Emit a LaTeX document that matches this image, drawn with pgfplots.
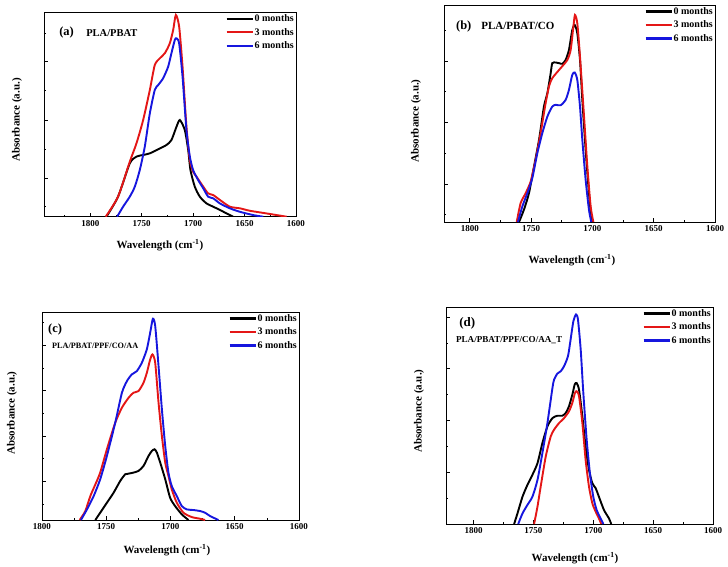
\documentclass[border=0pt]{standalone}
\usepackage{fontspec}
\setmainfont{Liberation Serif}
\usepackage{pgfplots}
\pgfplotsset{compat=1.18}
\definecolor{cred}{RGB}{228,22,22}
\definecolor{cblue}{RGB}{22,22,222}
\pgfplotsset{
  panel/.style={
    scale only axis,
    x dir=reverse,
    xmin=1600,
    ymin=0, ymax=1,
    axis line style={line width=0.8pt},
    xtick={1600,1650,1700,1750,1800},
    minor xtick={1625,1675,1725,1775,1825},
    tick align=inside,
    xtick pos=bottom, ytick pos=left,
    yticklabels={},
    major tick length=4pt, minor tick length=2.2pt,
    tick style={line width=0.6pt, black},
    /pgf/number format/assume math mode=true,
    /pgf/number format/1000 sep={},
    xticklabel style={font=\fontsize{9}{10}\selectfont\bfseries},
    label style={font=\fontsize{11}{12}\selectfont\bfseries},
    xlabel={Wavelength (cm\textsuperscript{-1})},
    ylabel={Absorbance (a.u.)},
    legend cell align=left,
    legend style={draw=none, fill=none, at={(1,1)}, anchor=north east,
      inner sep=1pt, font=\fontsize{10}{11}\selectfont\bfseries,
      nodes={inner sep=1pt, text height=7pt, text depth=1.5pt}, row sep=3pt},
    legend image code/.code={\draw[#1, line width=2.1pt, sharp plot] (0pt,0pt) -- (26pt,0pt);},
    every axis plot/.append style={line width=1.9pt, smooth, tension=0.4},
  }
}
\begin{document}
\begin{tikzpicture}
\useasboundingbox (0,0) rectangle (728pt,-566pt);
% ---------------- (a)
\begin{axis}[panel, at={(44pt,-216.7pt)}, anchor=south west,
  width=252pt, height=204.4pt, xmax=1845,
  ytick={0.19,0.473,0.758}, minor ytick={0.049,0.331,0.616,0.899},
  xlabel style={at={(axis description cs:0.46,-0.138)}, anchor=center},
  ylabel style={at={(axis description cs:-0.107,0.473)}, anchor=center}]
\addplot[black] coordinates {(1784.3,0) (1773,0.098) (1761.6,0.261) (1755.1,0.294) (1748.6,0.302) (1742.1,0.31) (1732.4,0.334) (1725.9,0.351) (1721.1,0.375) (1716.2,0.44) (1712.9,0.473) (1708.1,0.424) (1704.8,0.326) (1702.6,0.228) (1698.4,0.147) (1693.5,0.098) (1687,0.065) (1680.5,0.049) (1674,0.033) (1664.3,0.008) (1661,0)};
\addlegendentry{0 months}
\addplot[cred] coordinates {(1785,0) (1773,0.098) (1761.6,0.269) (1755.1,0.359) (1748.6,0.473) (1742.1,0.62) (1737.3,0.742) (1732.4,0.775) (1727.5,0.8) (1722.7,0.848) (1719.4,0.914) (1716.8,0.987) (1713.6,0.93) (1710.3,0.734) (1706.5,0.44) (1703.2,0.277) (1700,0.22) (1696.7,0.196) (1690.2,0.147) (1685.4,0.114) (1680.5,0.106) (1674,0.082) (1664.3,0.049) (1654.5,0.041) (1644.8,0.029) (1628.6,0.016) (1609.1,0)};
\addlegendentry{3 months}
\addplot[cblue] coordinates {(1773.9,0) (1768.1,0.049) (1761.6,0.098) (1756.7,0.147) (1751.9,0.228) (1747,0.343) (1742.1,0.506) (1737.3,0.62) (1734,0.644) (1729.2,0.677) (1724.3,0.734) (1721.1,0.8) (1717.8,0.865) (1716.2,0.873) (1713.6,0.848) (1710.3,0.685) (1706.5,0.424) (1703.2,0.294) (1700,0.228) (1695.1,0.179) (1690.2,0.139) (1685.4,0.098) (1680.5,0.09) (1674,0.065) (1664.3,0.041) (1654.5,0.024) (1641.6,0.008) (1631.8,0)};
\addlegendentry{6 months}
\node[anchor=west, font=\fontsize{12.5}{13}\selectfont\bfseries, inner sep=0pt] at (rel axis cs:0.06,0.899) {(a)};
\node[anchor=west, font=\fontsize{10.5}{12}\selectfont\bfseries, inner sep=0pt] at (rel axis cs:0.167,0.899) {PLA/PBAT};
\end{axis}
% ---------------- (b)
\begin{axis}[panel, at={(444pt,-222pt)}, anchor=south west,
  width=271pt, height=217pt, xmax=1821,
  ytick={0.176,0.46,0.742}, minor ytick={0.034,0.317,0.601,0.885},
  xlabel style={at={(axis description cs:0.472,-0.175)}, anchor=center},
  ylabel style={at={(axis description cs:-0.103,0.465)}, anchor=center}]
\addplot[black] coordinates {(1759.8,0) (1755.8,0.057) (1751.7,0.133) (1747.6,0.256) (1743.5,0.379) (1739.5,0.532) (1736.7,0.594) (1734,0.686) (1732.7,0.732) (1729.9,0.735) (1727.2,0.732) (1724.5,0.729) (1721.8,0.747) (1719.1,0.793) (1716.4,0.885) (1714.4,0.908) (1712.3,0.87) (1710.1,0.747) (1708.2,0.563) (1705.5,0.333) (1702.8,0.133) (1700.6,0)};
\addlegendentry{0 months}
\addplot[cred] coordinates {(1761.7,0) (1758.5,0.087) (1754.4,0.133) (1750.3,0.187) (1746.3,0.287) (1742.2,0.41) (1738.1,0.548) (1735.4,0.624) (1732.7,0.663) (1725.9,0.709) (1720.4,0.747) (1717.7,0.793) (1715.5,0.9) (1714.2,0.954) (1712.3,0.916) (1710.1,0.762) (1706.8,0.486) (1704.1,0.256) (1701.4,0.072) (1699.2,0)};
\addlegendentry{3 months}
\addplot[cblue] coordinates {(1760.7,0) (1757.1,0.072) (1753,0.133) (1749,0.202) (1744.9,0.317) (1740.8,0.41) (1736.7,0.486) (1732.7,0.532) (1729.9,0.54) (1725.9,0.538) (1721.8,0.563) (1719.1,0.609) (1716.4,0.678) (1714.4,0.689) (1712.3,0.655) (1710.1,0.532) (1708.2,0.379) (1705.5,0.195) (1702.8,0.057) (1700.9,0)};
\addlegendentry{6 months}
\node[anchor=west, font=\fontsize{12.5}{13}\selectfont\bfseries, inner sep=0pt] at (rel axis cs:0.044,0.903) {(b)};
\node[anchor=west, font=\fontsize{11}{12}\selectfont\bfseries, inner sep=0pt] at (rel axis cs:0.137,0.903) {PLA/PBAT/CO};
\end{axis}
% ---------------- (c)
\begin{axis}[panel, at={(42pt,-520pt)}, anchor=south west,
  width=257pt, height=208pt, xmax=1800,
  ytick={0.186,0.404,0.622,0.84}, minor ytick={0.077,0.295,0.513,0.731,0.949},
  xlabel style={at={(axis description cs:0.486,-0.144)}, anchor=center},
  ylabel style={at={(axis description cs:-0.117,0.514)}, anchor=center}]
\addplot[black] coordinates {(1758.5,0) (1754.7,0.035) (1749.5,0.083) (1744.3,0.131) (1739.1,0.188) (1735.2,0.22) (1732.6,0.223) (1728.8,0.228) (1724.9,0.236) (1721,0.26) (1717.1,0.308) (1714.5,0.332) (1712.4,0.34) (1710.6,0.324) (1708,0.276) (1704.1,0.196) (1700.3,0.107) (1696.4,0.067) (1691.2,0.027) (1686,0)};
\addlegendentry{0 months}
\addplot[cred] coordinates {(1770.7,0) (1766.3,0.043) (1762.4,0.115) (1758.5,0.171) (1754.7,0.228) (1749.5,0.34) (1743,0.468) (1737.8,0.54) (1732.6,0.588) (1728.8,0.612) (1724.9,0.62) (1721,0.66) (1718.4,0.708) (1715.8,0.772) (1714,0.796) (1711.9,0.756) (1709.3,0.564) (1706.7,0.404) (1704.1,0.276) (1701.6,0.212) (1699,0.147) (1695.1,0.083) (1689.9,0.035) (1683.4,0.014) (1676.9,0.006) (1673.1,0)};
\addlegendentry{3 months}
\addplot[cblue] coordinates {(1769.7,0) (1765,0.051) (1759.8,0.115) (1754.7,0.196) (1749.5,0.308) (1743,0.468) (1737.8,0.612) (1733.9,0.668) (1730.1,0.7) (1726.2,0.716) (1722.3,0.756) (1718.4,0.821) (1715.8,0.901) (1713.7,0.968) (1711.9,0.933) (1709.3,0.74) (1706.7,0.532) (1704.1,0.356) (1701.6,0.228) (1699,0.163) (1695.1,0.115) (1691.2,0.067) (1687.3,0.051) (1682.1,0.048) (1676.9,0.043) (1673.1,0.035) (1669.2,0.019) (1662.7,0)};
\addlegendentry{6 months}
\node[anchor=west, font=\fontsize{12.5}{13}\selectfont\bfseries, inner sep=0pt] at (rel axis cs:0.023,0.918) {(c)};
\node[anchor=west, font=\fontsize{8.2}{9}\selectfont\bfseries, inner sep=0pt] at (rel axis cs:0.039,0.837) {PLA/PBAT/PPF/CO/AA};
\end{axis}
% ---------------- (d)
\begin{axis}[panel, at={(446pt,-524pt)}, anchor=south west,
  width=267pt, height=217pt, xmax=1823,
  ytick={0.239,0.478,0.717,0.954}, minor ytick={0.119,0.357,0.596,0.835},
  xlabel style={at={(axis description cs:0.483,-0.157)}, anchor=center},
  ylabel style={at={(axis description cs:-0.101,0.52)}, anchor=center}]
\addplot[black] coordinates {(1766.1,0) (1763.3,0.049) (1759.1,0.126) (1755,0.18) (1750.8,0.227) (1746.6,0.28) (1742.5,0.373) (1738.3,0.45) (1734.1,0.488) (1730,0.499) (1725.8,0.499) (1723,0.512) (1720.3,0.542) (1717.5,0.596) (1715.5,0.643) (1713.9,0.65) (1711.9,0.619) (1709.1,0.496) (1706.4,0.357) (1703.6,0.25) (1700.8,0.188) (1698,0.165) (1695.3,0.126) (1691.1,0.065) (1686.9,0.026) (1685,0)};
\addlegendentry{0 months}
\addplot[cred] coordinates {(1749.4,0) (1746.6,0.08) (1743.9,0.173) (1739.7,0.311) (1735.5,0.404) (1732.7,0.435) (1728.6,0.465) (1724.4,0.488) (1720.3,0.519) (1717.5,0.558) (1715.3,0.604) (1713.9,0.612) (1711.9,0.589) (1709.1,0.465) (1706.4,0.296) (1703.6,0.173) (1700.8,0.096) (1698,0.057) (1695.3,0.026) (1693.3,0)};
\addlegendentry{3 months}
\addplot[cblue] coordinates {(1762.7,0) (1759.1,0.049) (1755,0.088) (1750.8,0.126) (1746.6,0.203) (1742.5,0.327) (1738.3,0.465) (1734.1,0.627) (1732.7,0.666) (1730,0.693) (1727.2,0.704) (1724.4,0.727) (1721.1,0.774) (1718.9,0.851) (1716.6,0.935) (1714.4,0.966) (1712.8,0.943) (1710.5,0.804) (1708.3,0.604) (1705.5,0.388) (1702.8,0.234) (1700,0.126) (1697.2,0.065) (1693.9,0.026) (1691.6,0)};
\addlegendentry{6 months}
\node[anchor=west, font=\fontsize{13}{14}\selectfont\bfseries, inner sep=0pt] at (rel axis cs:0.049,0.926) {(d)};
\node[anchor=west, font=\fontsize{9.1}{10}\selectfont\bfseries, inner sep=0pt] at (rel axis cs:0.037,0.848) {PLA/PBAT/PPF/CO/AA\_T};
\end{axis}
\end{tikzpicture}
\end{document}
